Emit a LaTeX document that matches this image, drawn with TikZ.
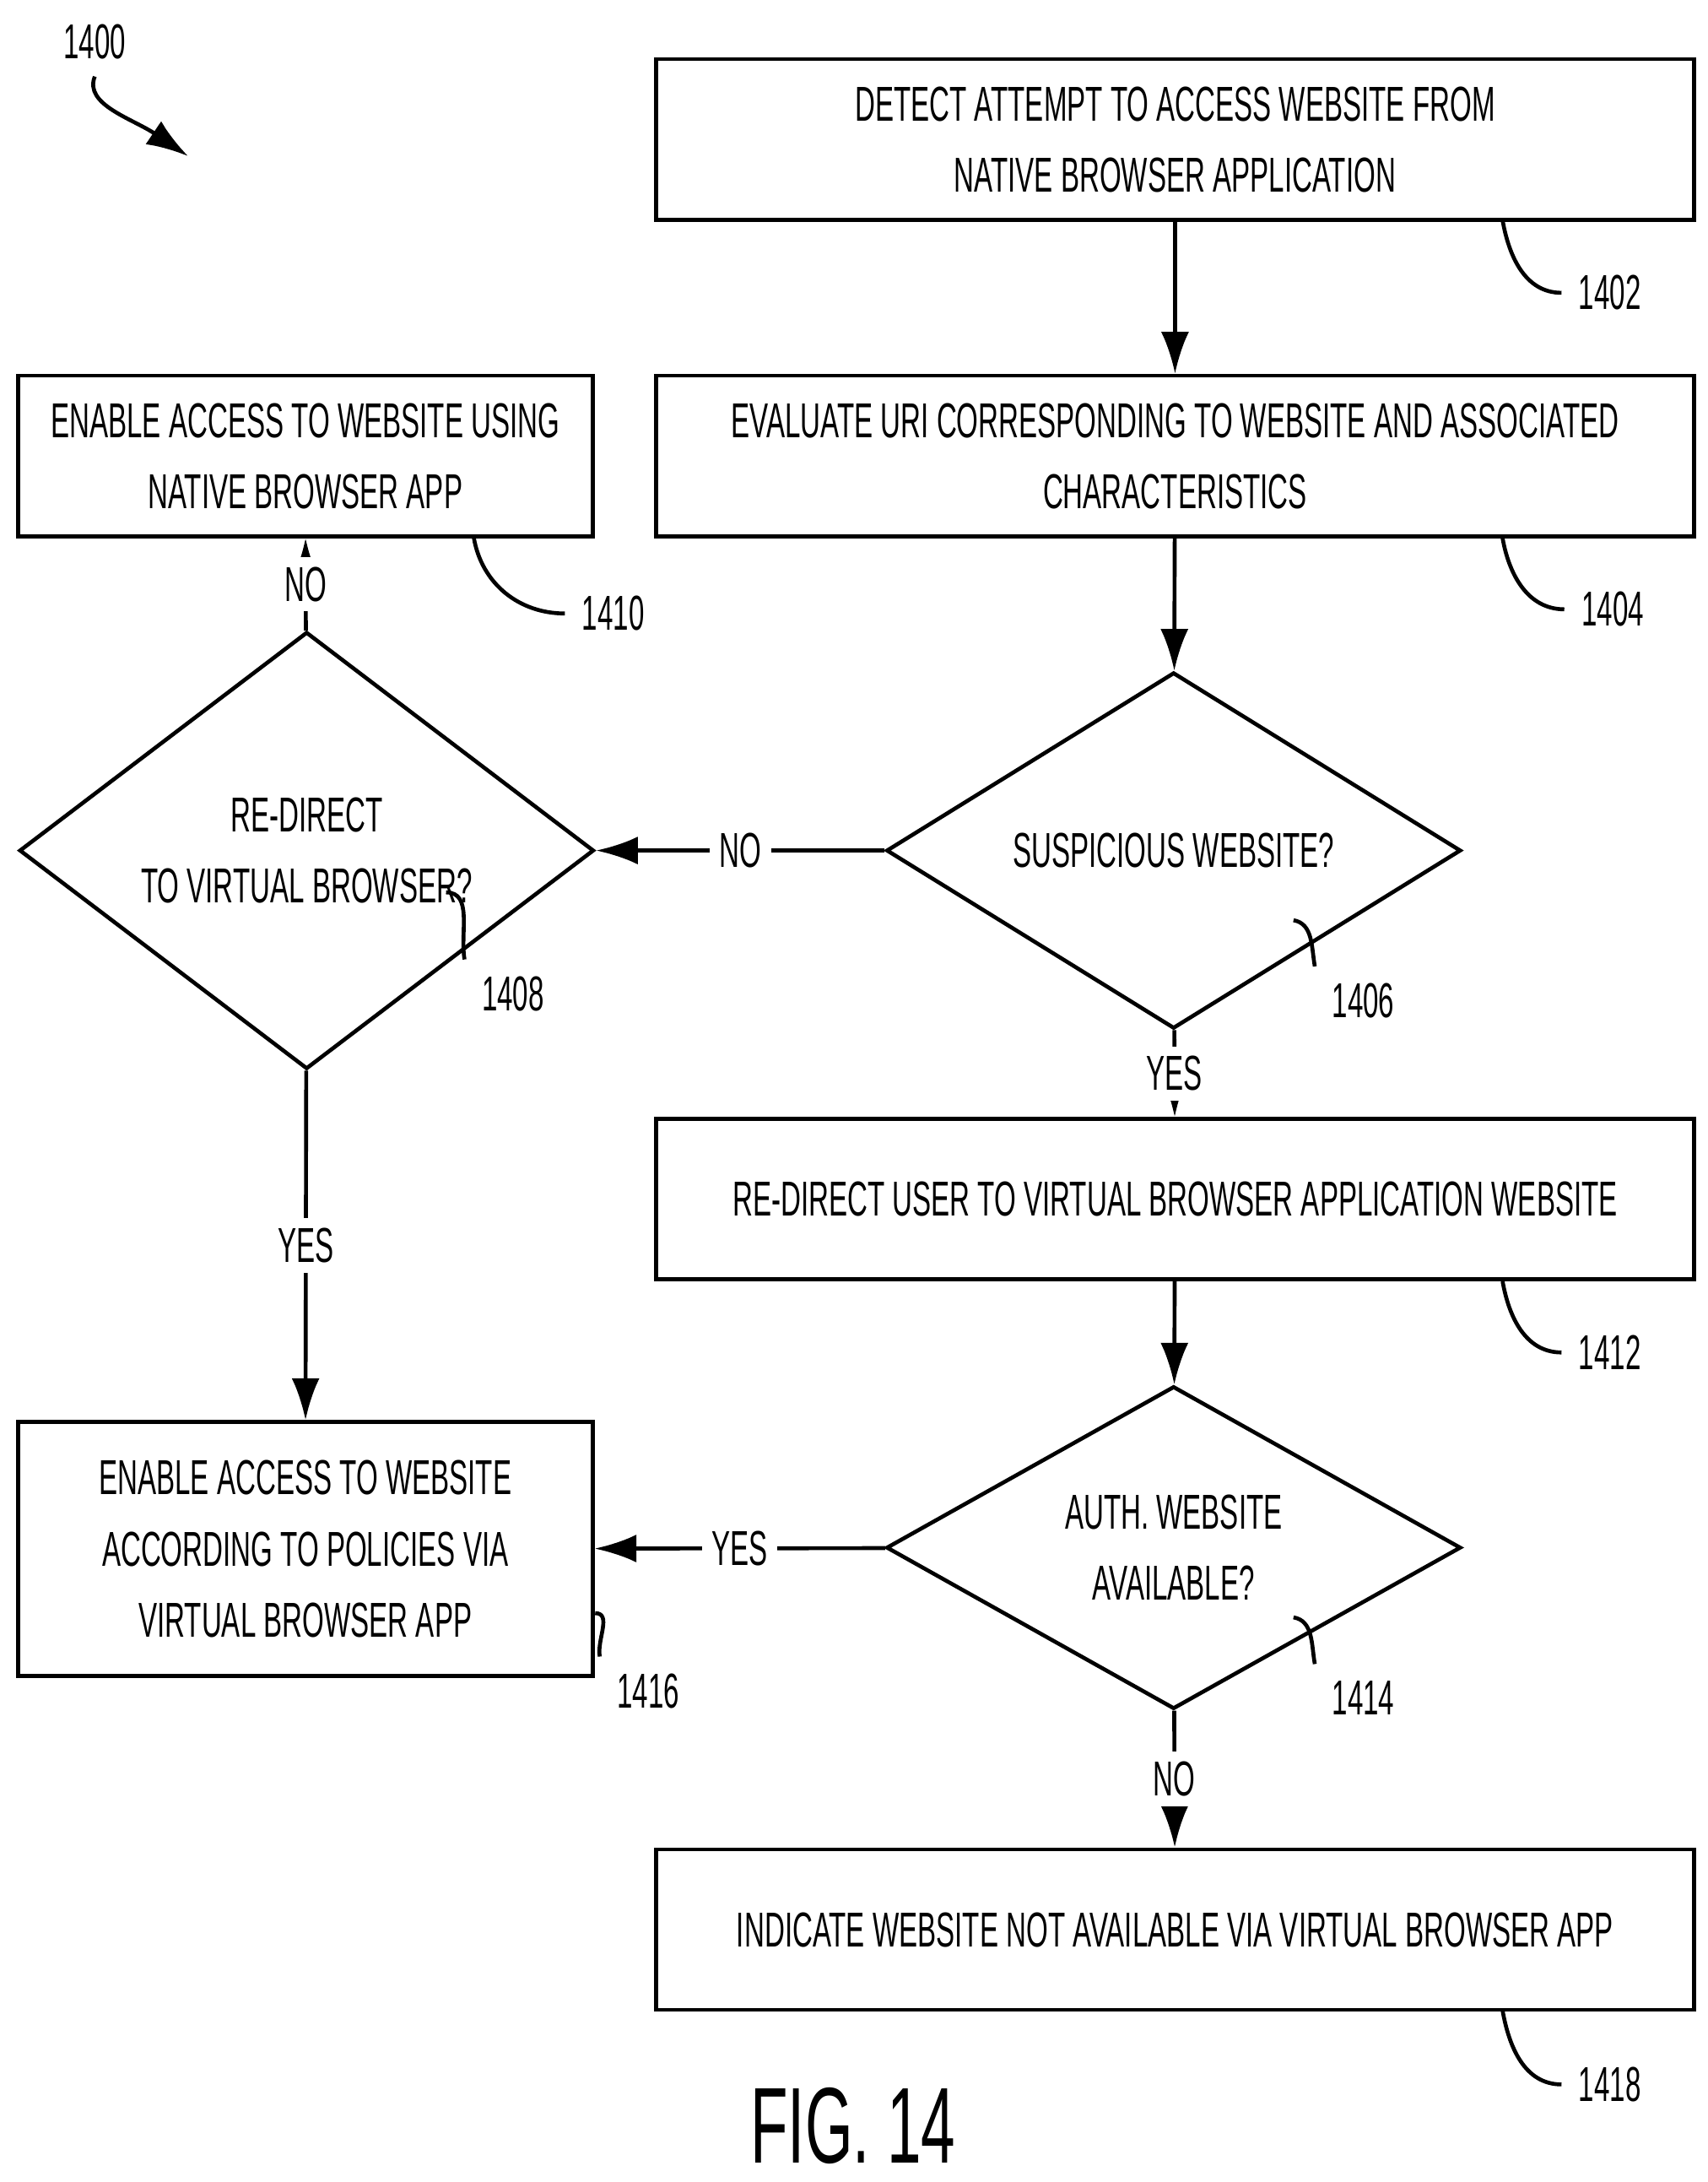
\documentclass[tikz,border=0pt]{standalone}
\usepackage{fontspec}
\setmainfont{Liberation Sans}[FakeStretch=0.57]
\usetikzlibrary{arrows.meta,shapes.geometric}
\begin{document}
\begin{tikzpicture}
  [x=0.01cm, y=-0.01cm, font=\fontsize{10}{14.5}\selectfont,
  block/.style={rectangle, draw, thick, align=center, minimum height=1.15cm},
  wide/.style={block, minimum width=7.44cm},
  narrow/.style={block, minimum width=4.12cm},
  decide/.style={diamond, draw, thick, align=center, minimum width=4.12cm, minimum height=1.8cm, inner sep=0pt},
  line/.style={draw, thick, -{Latex[length=3mm,width=2mm]}},
  lead/.style={draw, thick},
  tag/.style={fill=white, inner sep=2pt}]
  \useasboundingbox (0,0) rectangle (1225,1565);
  % nodes
  \node [wide] (detect) at (843,100) {DETECT ATTEMPT TO ACCESS WEBSITE FROM\\NATIVE BROWSER APPLICATION};
  \node [wide] (evaluate) at (843,327) {EVALUATE URI CORRESPONDING TO WEBSITE AND ASSOCIATED\\CHARACTERISTICS};
  \node [narrow] (native) at (219,327) {ENABLE ACCESS TO WEBSITE USING\\NATIVE BROWSER APP};
  \node [decide] (suspicious) at (842,610) {SUSPICIOUS WEBSITE?};
  \node [decide] (redirectq) at (220,610) {RE-DIRECT\\TO VIRTUAL BROWSER?};
  \node [wide] (redirect) at (843,860) {RE-DIRECT USER TO VIRTUAL BROWSER APPLICATION WEBSITE};
  \node [decide] (auth) at (842,1110) {AUTH. WEBSITE\\AVAILABLE?};
  \node [narrow, minimum height=1.82cm] (policies) at (219,1111) {ENABLE ACCESS TO WEBSITE\\ACCORDING TO POLICIES VIA\\VIRTUAL BROWSER APP};
  \node [wide] (indicate) at (843,1384) {INDICATE WEBSITE NOT AVAILABLE VIA VIRTUAL BROWSER APP};
  \node [font=\fontsize{22}{26}\selectfont] (fig) at (612,1525) {FIG. 14};
  \node (n1400) at (68,30) {1400};
  % reference numbers
  \node (n1402) at (1155,210) {1402};
  \node (n1404) at (1157,437) {1404};
  \node (n1410) at (440,440) {1410};
  \node (n1406) at (978,718) {1406};
  \node (n1408) at (368,713) {1408};
  \node (n1412) at (1155,970) {1412};
  \node (n1414) at (978,1218) {1414};
  \node (n1416) at (465,1213) {1416};
  \node (n1418) at (1155,1495) {1418};
  % edges
  \path [line] (detect) -- (evaluate);
  \path [line] (evaluate) -- (suspicious);
  \path [line] (suspicious) -- node [tag] {NO} (redirectq);
  \path [line] (redirectq) -- node [tag] {NO} (native);
  \path [line] (suspicious) -- node [tag] {YES} (redirect);
  \path [line] (redirectq) -- node [tag] {YES} (policies);
  \path [line] (redirect) -- (auth);
  \path [line] (auth) -- node [tag] {YES} (policies);
  \path [line] (auth) -- node [tag] {NO} (indicate);
  % leaders
  \path [lead] (1078,158) to [out=-80, in=180] (n1402.west);
  \path [lead] (1078,386) to [out=-80, in=180] (n1404.west);
  \path [lead] (340,386) to [out=-80, in=180] (n1410.west);
  \path [lead] (928,660) to [out=-10, in=100] (n1406.north west);
  \path [lead] (320,640) to [out=0, in=100] (n1408.north west);
  \path [lead] (1078,919) to [out=-80, in=180] (n1412.west);
  \path [lead] (928,1160) to [out=-10, in=100] (n1414.north west);
  \path [lead] (427,1157) to [out=0, in=100] (n1416.north west);
  \path [lead] (1078,1442) to [out=-80, in=180] (n1418.west);
  \path [draw, thick, -{Latex[length=3mm,width=2mm]}] (n1400.south) .. controls (60,75) and (95,85) .. (135,112);
\end{tikzpicture}
\end{document}
